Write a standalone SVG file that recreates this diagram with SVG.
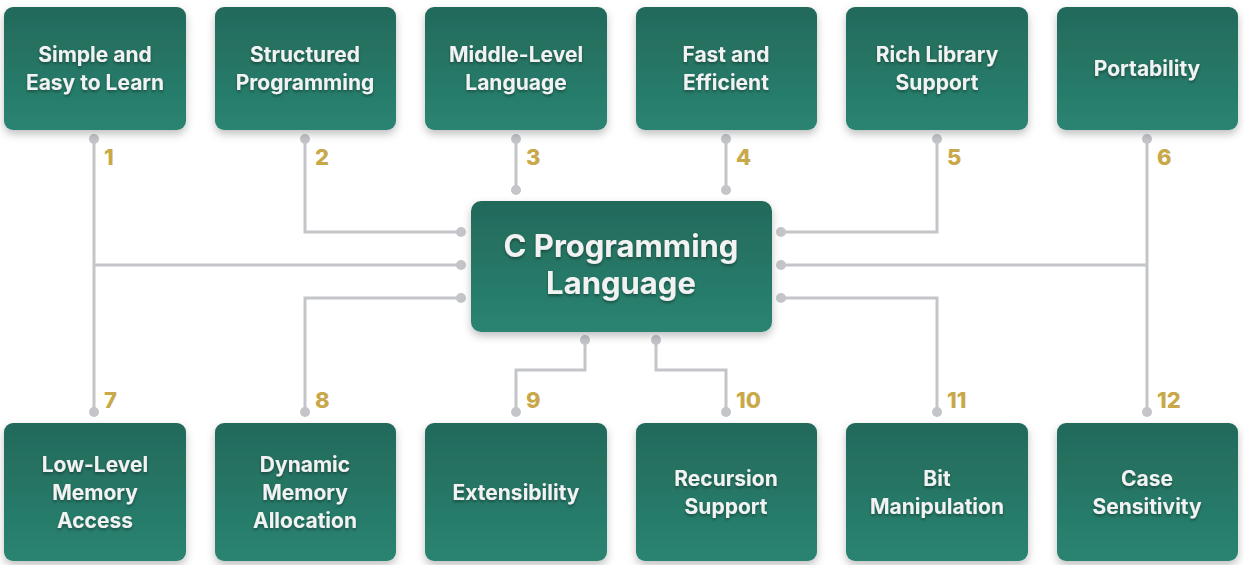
<svg xmlns="http://www.w3.org/2000/svg" width="1244" height="565" viewBox="0 0 1244 565">
<defs>
<linearGradient id="g" x1="0" y1="0" x2="0" y2="1"><stop offset="0" stop-color="#23695a"/><stop offset="1" stop-color="#2a8471"/></linearGradient>
<filter id="sh" x="-20%" y="-20%" width="140%" height="150%"><feDropShadow dx="0" dy="4" stdDeviation="4" flood-color="#000" flood-opacity="0.25"/></filter>
<filter id="ts"><feDropShadow dx="0" dy="2" stdDeviation="1.5" flood-color="#000" flood-opacity="0.35"/></filter>
</defs>
<style>
.b{fill:url(#g);filter:url(#sh)}
.t{font-family:Inter,"Noto Sans",sans-serif;font-weight:700;font-size:21px;fill:#f2f2f2;text-anchor:middle;filter:url(#ts)}
.c{font-size:31px}
.n{font-family:Inter,"Noto Sans",sans-serif;font-weight:800;font-size:22px;fill:#c9a84a}
.l{fill:none;stroke:#c3c5c9;stroke-width:3}
.d{fill:#c3c5c9}
</style>
<rect width="1244" height="565" fill="#fff"/>
<g id="connectors">
<path class="l" d="M94 139V412M94 265H461M305 139V232H461M516 139V190M726 139V190M937 139V232H781M1147 139V412M1147 265H781M305 412V298H461M516 412V370H585V340M726 412V370H656V340M937 412V298H781"/>
<g class="d">
<circle cx="94" cy="139" r="5"/><circle cx="305" cy="139" r="5"/><circle cx="516" cy="139" r="5"/><circle cx="726" cy="139" r="5"/><circle cx="937" cy="139" r="5"/><circle cx="1147" cy="139" r="5"/>
<circle cx="94" cy="412" r="5"/><circle cx="305" cy="412" r="5"/><circle cx="516" cy="412" r="5"/><circle cx="726" cy="412" r="5"/><circle cx="937" cy="412" r="5"/><circle cx="1147" cy="412" r="5"/>
<circle cx="461" cy="232" r="5"/><circle cx="461" cy="265" r="5"/><circle cx="461" cy="298" r="5"/>
<circle cx="781" cy="232" r="5"/><circle cx="781" cy="265" r="5"/><circle cx="781" cy="298" r="5"/>
<circle cx="516" cy="190" r="5"/><circle cx="726" cy="190" r="5"/><circle cx="585" cy="340" r="5"/><circle cx="656" cy="340" r="5"/>
</g>
<g class="n">
<text x="104" y="165">1</text><text x="315" y="165">2</text><text x="526" y="165">3</text><text x="736" y="165">4</text><text x="947" y="165">5</text><text x="1157" y="165">6</text>
<text x="104" y="408">7</text><text x="315" y="408">8</text><text x="526" y="408">9</text><text x="736" y="408">10</text><text x="947" y="408">11</text><text x="1157" y="408">12</text>
</g>
</g>
<g id="center"><rect class="b" x="471" y="201" width="301" height="131" rx="10"/><text class="t c" x="621" y="257">C Programming</text><text class="t c" x="621" y="294">Language</text></g>
<g id="n1"><rect class="b" x="4" y="7" width="182" height="123" rx="9"/><text class="t" x="95" y="62">Simple and</text><text class="t" x="95" y="90">Easy to Learn</text></g>
<g id="n2"><rect class="b" x="215" y="7" width="181" height="123" rx="9"/><text class="t" x="305" y="62">Structured</text><text class="t" x="305" y="90">Programming</text></g>
<g id="n3"><rect class="b" x="425" y="7" width="182" height="123" rx="9"/><text class="t" x="516" y="62">Middle-Level</text><text class="t" x="516" y="90">Language</text></g>
<g id="n4"><rect class="b" x="636" y="7" width="181" height="123" rx="9"/><text class="t" x="726" y="62">Fast and</text><text class="t" x="726" y="90">Efficient</text></g>
<g id="n5"><rect class="b" x="846" y="7" width="182" height="123" rx="9"/><text class="t" x="937" y="62">Rich Library</text><text class="t" x="937" y="90">Support</text></g>
<g id="n6"><rect class="b" x="1057" y="7" width="181" height="123" rx="9"/><text class="t" x="1147" y="76">Portability</text></g>
<g id="n7"><rect class="b" x="4" y="423" width="182" height="138" rx="9"/><text class="t" x="95" y="472">Low-Level</text><text class="t" x="95" y="500">Memory</text><text class="t" x="95" y="528">Access</text></g>
<g id="n8"><rect class="b" x="215" y="423" width="181" height="138" rx="9"/><text class="t" x="305" y="472">Dynamic</text><text class="t" x="305" y="500">Memory</text><text class="t" x="305" y="528">Allocation</text></g>
<g id="n9"><rect class="b" x="425" y="423" width="182" height="138" rx="9"/><text class="t" x="516" y="500">Extensibility</text></g>
<g id="n10"><rect class="b" x="636" y="423" width="181" height="138" rx="9"/><text class="t" x="726" y="486">Recursion</text><text class="t" x="726" y="514">Support</text></g>
<g id="n11"><rect class="b" x="846" y="423" width="182" height="138" rx="9"/><text class="t" x="937" y="486">Bit</text><text class="t" x="937" y="514">Manipulation</text></g>
<g id="n12"><rect class="b" x="1057" y="423" width="181" height="138" rx="9"/><text class="t" x="1147" y="486">Case</text><text class="t" x="1147" y="514">Sensitivity</text></g>
</svg>
